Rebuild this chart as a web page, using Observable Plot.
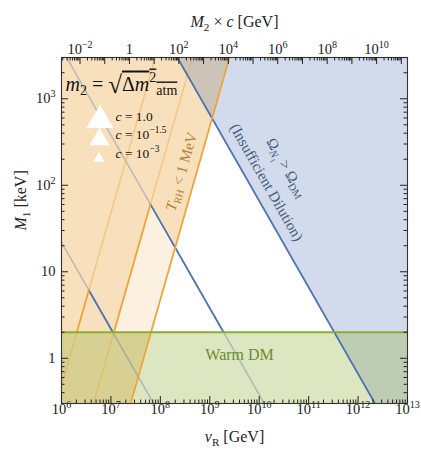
<!DOCTYPE html>
<html><head><meta charset="utf-8">
<script src="https://cdn.jsdelivr.net/npm/d3@7"></script>
<script src="https://cdn.jsdelivr.net/npm/@observablehq/plot@0.6"></script>
<style>html,body{margin:0;padding:0;background:#fff;}</style>
</head><body><div id="chart"></div>
<script>
// ---------------- data ----------------
const cLabels = ["1.0", "10^{−1.5}", "10^{−3}"];
// log10(M1[keV]·vR[GeV]) along the "insufficient dilution" boundary, one per c
const dilutionLogK = [11.82, 9.58, 7.34];
// log10(M1[keV]/vR[GeV]^2) along the T_RH = 1 MeV boundary, one per c
const reheatLogK = [-15.32, -13.82, -12.32];
const warmDMLimit = 2; // keV
const vRDomain = [1e6, 1e13];
const m1Domain = [0.3, 3000];
const vRTicks = [1e6, 1e7, 1e8, 1e9, 1e10, 1e11, 1e12, 1e13];
const vRTickLabels = ["10^{6}", "10^{7}", "10^{8}", "10^{9}", "10^{10}", "10^{11}", "10^{12}", "10^{13}"];
const m1Ticks = [1, 10, 100, 1000];
const m1TickLabels = ["1", "10", "10^{2}", "10^{3}"];
const m2cTicks = [1e-2, 1, 1e2, 1e4, 1e6, 1e8, 1e10];
const m2cTickLabels = ["10^{−2}", "1", "10^{2}", "10^{4}", "10^{6}", "10^{8}", "10^{10}"];
const m2cLogOffset = 14.75; // log10(M2·c) = 2·log10(vR) − 14.75
const annotations = [
  {text: "\\i{T}_{RH} < 1 MeV", vR: 2.68e8, M1: 144, rotate: -74, color: "#b3822f", size: 15},
  {text: "Ω_{\\i{N}_{1}} > Ω_{DM}", vR: 3.56e10, M1: 160, rotate: 60.3, color: "#46597c", size: 15},
  {text: "(Insufficient Dilution)", vR: 1.40e10, M1: 108, rotate: 60.3, color: "#46597c", size: 15},
  {text: "Warm DM", vR: 4.0e9, M1: 1.1, rotate: 0, color: "#6e8b2e", size: 16}
];

// ---------------- helpers ----------------
const L = Math.log10, P = v => Math.pow(10, v);
const blueX = (k, m) => P(k - L(m));          // vR on dilution boundary at M1 = m
const orangeX = (k, m) => P((L(m) - k) / 2);  // vR on reheating boundary at M1 = m
const m2cToVR = t => P((L(t) + m2cLogOffset) / 2);
const yLo = 0.05, yHi = 1e5;
const ORANGE = "#eca53a", BLUE = "#4c72b0", GREEN = "#8cad31";
const W = 421, H = 451, mL = 61, mR = 14, mT = 57, mB = 48;
const FW = W - mL - mR, FH = H - mT - mB;

function minors(lo, hi) {
  const out = [];
  for (let e = lo; e <= hi; e++) for (let m = 2; m <= 9; m++) out.push(m * Math.pow(10, e));
  return out;
}
const inX = v => v >= vRDomain[0] * 0.9999 && v <= vRDomain[1] * 1.0001;
const inY = v => v >= m1Domain[0] * 0.9999 && v <= m1Domain[1] * 1.0001;
const xMajor = d3.range(6, 14).map(P);
const xMinor = minors(6, 12).filter(inX);
const yMajor = d3.range(0, 4).map(P);
const yMinor = minors(-1, 3).filter(inY);
const topMajor = d3.range(-3, 13).map(P).map(m2cToVR).filter(inX);
const topMinor = minors(-3, 12).map(m2cToVR).filter(inX);

const marks = [];
// regions
marks.push(Plot.areaX([yLo, yHi], {y: d => d, x1: 1e4, x2: d => orangeX(reheatLogK[0], d), fill: ORANGE, fillOpacity: 0.34, clip: true}));
marks.push(Plot.areaX([yLo, yHi], {y: d => d, x1: d => blueX(dilutionLogK[0], d), x2: 1e15, fill: BLUE, fillOpacity: 0.26, clip: true}));
marks.push(Plot.areaY([1e4, 1e15], {x: d => d, y1: yLo, y2: warmDMLimit, fill: GREEN, fillOpacity: 0.30, clip: true}));
// allowed window for c = 10^-1.5 (highlighted)
{
  const kb = dilutionLogK[1], ko = reheatLogK[1];
  const top = P((2 * kb + ko) / 3);
  marks.push(Plot.areaX([warmDMLimit, top], {y: d => d, x1: d => orangeX(ko, d), x2: d => blueX(kb, d), fill: "white", fillOpacity: 0.55, clip: true}));
}
// faint full lines for smaller c
[1, 2].forEach(i => {
  marks.push(Plot.line([yLo, yHi], {y: d => d, x: d => blueX(dilutionLogK[i], d), stroke: BLUE, strokeOpacity: 0.35, strokeWidth: 1.6, clip: true}));
  marks.push(Plot.line([yLo, yHi], {y: d => d, x: d => orangeX(reheatLogK[i], d), stroke: ORANGE, strokeOpacity: 0.4, strokeWidth: 1.6, clip: true}));
});
// saturated boundary segments of smaller-c windows
[1, 2].forEach(i => {
  const kb = dilutionLogK[i], ko = reheatLogK[i];
  const top = P((2 * kb + ko) / 3);
  marks.push(Plot.line([warmDMLimit, top], {y: d => d, x: d => blueX(kb, d), stroke: BLUE, strokeWidth: 1.7, clip: true}));
  marks.push(Plot.line([warmDMLimit, top], {y: d => d, x: d => orangeX(ko, d), stroke: ORANGE, strokeWidth: 1.7, clip: true}));
});
// c = 1 boundaries
marks.push(Plot.line([yLo, yHi], {y: d => d, x: d => blueX(dilutionLogK[0], d), stroke: BLUE, strokeWidth: 1.8, clip: true}));
marks.push(Plot.line([yLo, yHi], {y: d => d, x: d => orangeX(reheatLogK[0], d), stroke: ORANGE, strokeWidth: 1.8, clip: true}));
marks.push(Plot.ruleY([warmDMLimit], {stroke: GREEN, strokeWidth: 2.2}));

// frame and ticks
marks.push(Plot.frame({stroke: "#333", strokeWidth: 1.1}));
const TK = "#222";
marks.push(Plot.tickX(xMajor, {x: d => d, insetTop: FH - 7, stroke: TK}));
marks.push(Plot.tickX(xMinor, {x: d => d, insetTop: FH - 3.5, stroke: TK}));
marks.push(Plot.tickX(topMajor, {x: d => d, insetBottom: FH - 7, stroke: TK}));
marks.push(Plot.tickX(topMinor, {x: d => d, insetBottom: FH - 3.5, stroke: TK}));
marks.push(Plot.tickY(yMajor, {y: d => d, insetRight: FW - 7, stroke: TK}));
marks.push(Plot.tickY(yMinor, {y: d => d, insetRight: FW - 3.5, stroke: TK}));
marks.push(Plot.tickY(yMajor, {y: d => d, insetLeft: FW - 7, stroke: TK}));
marks.push(Plot.tickY(yMinor, {y: d => d, insetLeft: FW - 3.5, stroke: TK}));

// tick labels
const TXT = "#222";
marks.push(Plot.text(vRTicks.map((v, i) => ({v, t: vRTickLabels[i]})), {x: "v", text: "t", frameAnchor: "bottom", dy: 10.5, fontSize: 14.5, fill: TXT}));
marks.push(Plot.text(m1Ticks.map((v, i) => ({v, t: m1TickLabels[i]})), {y: "v", text: "t", frameAnchor: "left", dx: -6, textAnchor: "end", fontSize: 14.5, fill: TXT}));
marks.push(Plot.text(m2cTicks.map((v, i) => ({v: m2cToVR(v), t: m2cTickLabels[i]})), {x: "v", text: "t", frameAnchor: "top", dy: -13.5, fontSize: 14.5, fill: TXT}));
// axis titles
marks.push(Plot.text(["\\i{v}_{R} [GeV]"], {text: d => d, frameAnchor: "bottom", dy: 38, fontSize: 16, fill: TXT}));
marks.push(Plot.text(["\\i{M}_{2} × \\i{c} [GeV]"], {text: d => d, frameAnchor: "top", dy: -42, fontSize: 16, fill: TXT}));
marks.push(Plot.text(["\\i{M}_{1} [keV]"], {text: d => d, frameAnchor: "left", dx: -41, rotate: -90, fontSize: 16, fill: TXT}));

// annotations
annotations.forEach(a => {
  marks.push(Plot.text([a], {x: "vR", y: "M1", text: "text", rotate: a.rotate, fill: a.color, fontSize: a.size}));
});

// legend
marks.push(Plot.text(["\\i{m}_{2} = \\b{√}\\o{Δ\\i{m}^{2}_{atm}}"], {text: d => d, frameAnchor: "top-left", dx: 4, dy: 33, textAnchor: "start", lineAnchor: "bottom", fontSize: 20, fill: "#111"}));
const legTri = [{dx: 38.5, dy: 62.7, r: 10}, {dx: 38, dy: 82, r: 7.4}, {dx: 37.5, dy: 101, r: 4.1}];
const legTxt = [63, 81, 100];
cLabels.forEach((c, i) => {
  marks.push(Plot.dot([c], {frameAnchor: "top-left", dx: legTri[i].dx, dy: legTri[i].dy, r: legTri[i].r, symbol: "triangle", fill: "white", stroke: "none"}));
  marks.push(Plot.text(["\\i{c} = " + c], {text: d => d, frameAnchor: "top-left", dx: 54, dy: legTxt[i], textAnchor: "start", lineAnchor: "bottom", fontSize: 13.5, fill: "#111"}));
});

const chart = Plot.plot({
  width: W, height: H,
  marginLeft: mL, marginRight: mR, marginTop: mT, marginBottom: mB,
  x: {type: "log", domain: vRDomain, axis: null},
  y: {type: "log", domain: m1Domain, axis: null},
  style: {fontFamily: "'Liberation Serif', 'DejaVu Serif', serif", background: "white", color: "#222"},
  marks
});

// mini markup -> tspans (super/subscripts, italics, overline, big radical)
function md(s) {
  let i = 0;
  const esc = c => c === "<" ? "&lt;" : c === ">" ? "&gt;" : c === "&" ? "&amp;" : c;
  function parse(inBrace) {
    let out = "";
    while (i < s.length) {
      const c = s[i];
      if (c === "}" && inBrace) { i++; return out; }
      if ((c === "^" || c === "_") && s[i + 1] === "{") {
        i += 2;
        const inner = parse(true);
        out += c === "^"
          ? `<tspan baseline-shift="0.62em" font-size="70%">${inner}</tspan>`
          : `<tspan baseline-shift="-0.32em" font-size="70%">${inner}</tspan>`;
        continue;
      }
      if (c === "\\" && s[i + 2] === "{") {
        const t = s[i + 1]; i += 3;
        const inner = parse(true);
        out += t === "i" ? `<tspan font-style="italic">${inner}</tspan>`
             : t === "b" ? `<tspan font-size="125%" baseline-shift="-0.08em">${inner}</tspan>`
             : `<tspan text-decoration="overline">${inner}</tspan>`;
        continue;
      }
      out += esc(c); i++;
    }
    return out;
  }
  return parse(false);
}
chart.querySelectorAll("text").forEach(t => {
  const s = t.textContent;
  if (/[\^_\\]/.test(s) || /[<>]/.test(s)) t.innerHTML = md(s);
});
document.getElementById("chart").appendChild(chart);
</script>
</body></html>
